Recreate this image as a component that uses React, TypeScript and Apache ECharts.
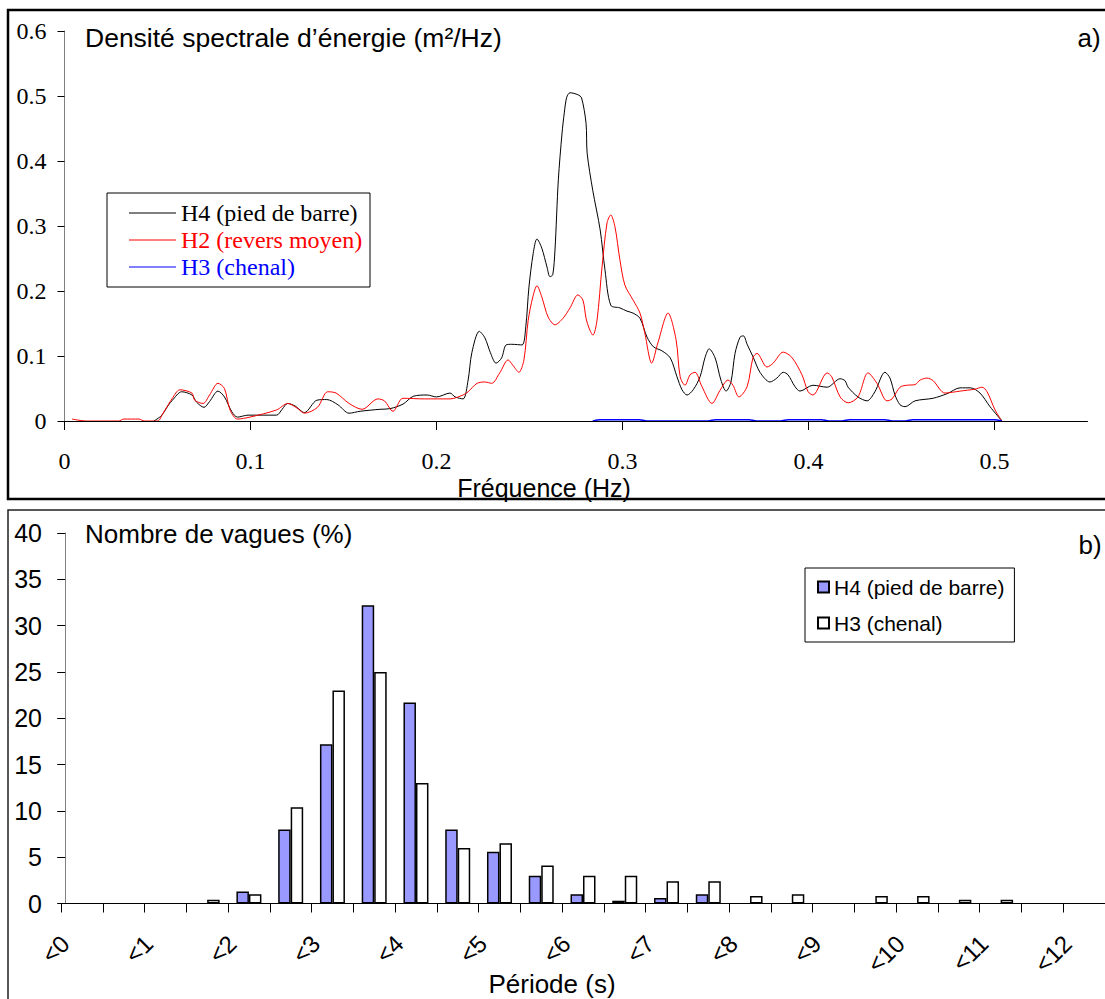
import { useEffect, useRef } from "react";
import * as echarts from "echarts";

// ---------- Panel a) : spectral energy density (m²/Hz) vs frequency (Hz) ----------
const h4Spectrum: [number, number][] = [
  [0.048, 0], [0.052, 0.008], [0.056, 0.025], [0.058, 0.032], [0.063, 0.045], [0.0685, 0.04],
  [0.071, 0.029], [0.075, 0.021], [0.078, 0.03], [0.0825, 0.046], [0.086, 0.037], [0.09, 0.014],
  [0.093, 0.006], [0.0987, 0.009], [0.114, 0.009], [0.117, 0.018], [0.12, 0.027], [0.124, 0.023],
  [0.129, 0.013], [0.1357, 0.032], [0.141, 0.033], [0.147, 0.025], [0.153, 0.012], [0.159, 0.015],
  [0.1696, 0.018], [0.175, 0.019], [0.182, 0.026], [0.1875, 0.038], [0.195, 0.04], [0.2, 0.037],
  [0.2073, 0.043], [0.21, 0.037], [0.2143, 0.034], [0.217, 0.063], [0.219, 0.105], [0.223, 0.138],
  [0.226, 0.128], [0.229, 0.105], [0.232, 0.089], [0.235, 0.097], [0.2374, 0.117], [0.2405, 0.118],
  [0.246, 0.117], [0.248, 0.145], [0.2497, 0.206], [0.252, 0.258], [0.254, 0.28], [0.2566, 0.266],
  [0.2594, 0.237], [0.261, 0.222], [0.2625, 0.225], [0.2637, 0.263], [0.2655, 0.371], [0.2675, 0.443],
  [0.2687, 0.474], [0.27, 0.498], [0.2718, 0.505], [0.276, 0.502], [0.278, 0.497], [0.2804, 0.458],
  [0.281, 0.412], [0.284, 0.355], [0.288, 0.294], [0.2906, 0.232], [0.2937, 0.178], [0.2986, 0.174],
  [0.3024, 0.169], [0.3057, 0.166], [0.3094, 0.158], [0.3132, 0.129], [0.3167, 0.114], [0.3212, 0.108],
  [0.3257, 0.097], [0.3293, 0.068], [0.332, 0.048], [0.3347, 0.04], [0.338, 0.048], [0.3417, 0.068],
  [0.3444, 0.098], [0.3466, 0.111], [0.3498, 0.097], [0.3529, 0.063], [0.3557, 0.046], [0.3583, 0.06],
  [0.3605, 0.104], [0.3632, 0.129], [0.365, 0.131], [0.367, 0.118], [0.3703, 0.098], [0.3739, 0.075],
  [0.3793, 0.06], [0.383, 0.066], [0.3864, 0.075], [0.389, 0.071], [0.3927, 0.053], [0.3954, 0.046],
  [0.4024, 0.055], [0.41, 0.052], [0.417, 0.065], [0.4196, 0.062], [0.4213, 0.052], [0.4266, 0.037],
  [0.4315, 0.031], [0.4357, 0.045], [0.4411, 0.075], [0.4438, 0.066], [0.4465, 0.04], [0.4492, 0.025],
  [0.4519, 0.022], [0.4573, 0.031], [0.467, 0.035], [0.4745, 0.042], [0.4815, 0.051], [0.487, 0.051],
  [0.4922, 0.043], [0.4976, 0.022], [0.504, 0],
];

const h2Spectrum: [number, number][] = [
  [0.004, 0.003], [0.012, 0], [0.029, 0], [0.032, 0.003], [0.04, 0.003], [0.043, 0], [0.05, 0],
  [0.053, 0.012], [0.058, 0.035], [0.062, 0.048], [0.0685, 0.043], [0.07, 0.032], [0.0745, 0.027],
  [0.078, 0.04], [0.0825, 0.058], [0.086, 0.05], [0.089, 0.017], [0.093, 0.003], [0.0997, 0.006],
  [0.114, 0.017], [0.12, 0.027], [0.125, 0.02], [0.129, 0.012], [0.136, 0.021], [0.1415, 0.045],
  [0.146, 0.043], [0.153, 0.027], [0.16, 0.018], [0.1685, 0.034], [0.172, 0.031], [0.1766, 0.015],
  [0.182, 0.035], [0.1935, 0.034], [0.2073, 0.034], [0.2143, 0.04], [0.217, 0.045], [0.2218, 0.058],
  [0.226, 0.06], [0.2297, 0.058], [0.234, 0.074], [0.2385, 0.094], [0.241, 0.086], [0.2443, 0.075],
  [0.247, 0.094], [0.2493, 0.155], [0.2518, 0.191], [0.254, 0.208], [0.2566, 0.191], [0.26, 0.16],
  [0.2637, 0.148], [0.268, 0.158], [0.2718, 0.174], [0.276, 0.194], [0.2787, 0.186], [0.2804, 0.158],
  [0.282, 0.143], [0.2841, 0.132], [0.2863, 0.155], [0.289, 0.237], [0.2917, 0.305], [0.2937, 0.317],
  [0.296, 0.298], [0.2986, 0.248], [0.3013, 0.209], [0.3057, 0.186], [0.3094, 0.166], [0.312, 0.135],
  [0.3157, 0.089], [0.319, 0.12], [0.3245, 0.166], [0.3288, 0.125], [0.331, 0.068], [0.3336, 0.055],
  [0.3363, 0.071], [0.339, 0.075], [0.3427, 0.053], [0.3481, 0.027], [0.3524, 0.047], [0.3567, 0.063],
  [0.3594, 0.055], [0.3626, 0.037], [0.367, 0.053], [0.3702, 0.098], [0.3723, 0.104], [0.3777, 0.083],
  [0.381, 0.089], [0.3864, 0.106], [0.391, 0.098], [0.3965, 0.071], [0.3998, 0.045], [0.4024, 0.04],
  [0.41, 0.074], [0.4125, 0.068], [0.417, 0.037], [0.4213, 0.028], [0.4266, 0.037], [0.432, 0.074],
  [0.4368, 0.058], [0.4422, 0.031], [0.4449, 0.034], [0.4492, 0.052], [0.4528, 0.055], [0.4573, 0.056],
  [0.46, 0.063], [0.4637, 0.066], [0.467, 0.062], [0.4734, 0.043], [0.4815, 0.046], [0.4895, 0.049],
  [0.4933, 0.052], [0.496, 0.045], [0.5003, 0.017], [0.504, 0],
];

const h3Spectrum: [number, number][] = [
  [0.284, 0], [0.288, 0.002], [0.309, 0.002], [0.313, 0], [0.346, 0], [0.35, 0.002], [0.368, 0.002],
  [0.372, 0], [0.385, 0], [0.389, 0.002], [0.407, 0.002], [0.411, 0], [0.418, 0], [0.422, 0.002],
  [0.441, 0.002], [0.445, 0], [0.452, 0], [0.456, 0.002], [0.5, 0.002], [0.504, 0],
];

const freqTicks = [0, 0.1, 0.2, 0.3, 0.4, 0.5];

const spectrumNames = ["H4 (pied de barre)", "H2 (revers moyen)", "H3 (chenal)"];
const spectrumColors = ["#000000", "#ff0000", "#0000ff"];

// ---------- Panel b) : number of waves (%) per period class (half-second bins) ----------
const periodBins = [
  "0-0.5", "0.5-1", "1-1.5", "1.5-2", "2-2.5", "2.5-3", "3-3.5", "3.5-4", "4-4.5", "4.5-5",
  "5-5.5", "5.5-6", "6-6.5", "6.5-7", "7-7.5", "7.5-8", "8-8.5", "8.5-9", "9-9.5", "9.5-10",
  "10-10.5", "10.5-11", "11-11.5", "11.5-12", "12-12.5",
];
const h4Counts = [0, 0, 0, 0, 1.3, 8.0, 17.2, 32.2, 21.7, 8.0, 5.6, 3.0, 1.0, 0.3, 0.6, 1.0, 0, 0, 0, 0, 0, 0, 0, 0, 0];
const h3Counts = [0, 0, 0, 0.4, 1.0, 10.4, 23.0, 25.0, 13.0, 6.0, 6.5, 4.1, 3.0, 3.0, 2.4, 2.4, 0.8, 1.0, 0, 0.8, 0.8, 0.4, 0.4, 0, 0];
const periodLabels = ["<0", "<1", "<2", "<3", "<4", "<5", "<6", "<7", "<8", "<9", "<10", "<11", "<12"];
const periodLabelPos = [0, 2, 4, 6, 8, 10, 12, 14, 16, 18, 20, 22, 24];

const SANS = "Liberation Sans";
const SERIF = "Liberation Serif";

export default function App() {
  const ref = useRef<HTMLDivElement>(null);

  useEffect(() => {
    if (!ref.current) return;
    const chart = echarts.init(ref.current, null, { renderer: "svg" });

    const txt = (
      x: number,
      y: number,
      text: string,
      size: number,
      align: string,
      family = SANS,
      color = "#000"
    ) => ({
      type: "text",
      x,
      y,
      silent: true,
      z: 20,
      style: {
        text,
        fill: color,
        fontFamily: family,
        fontSize: size,
        align,
        textAlign: align,
        verticalAlign: "middle",
        textVerticalAlign: "middle",
      },
    });

    // top legend drawn as a boxed list
    const legendRows = [213, 240, 267];
    const topLegend: any[] = [
      {
        type: "rect",
        silent: true,
        z: 19,
        shape: { x: 107, y: 193, width: 263, height: 94 },
        style: { fill: "#fff", stroke: "#000", lineWidth: 1 },
      },
    ];
    spectrumNames.forEach((name, i) => {
      topLegend.push({
        type: "line",
        silent: true,
        z: 20,
        shape: { x1: 129, y1: legendRows[i], x2: 176, y2: legendRows[i] },
        style: { stroke: spectrumColors[i], lineWidth: 1 },
      });
      topLegend.push(txt(181, legendRows[i], name, 24, "left", SERIF, spectrumColors[i]));
    });

    chart.setOption({
      animation: false,
      backgroundColor: "#fff",
      grid: [
        { left: 64.5, right: 17.5, top: 31, bottom: 578 },
        { left: 61, right: 0, top: 533, bottom: 95.5 },
      ],
      xAxis: [
        {
          type: "value",
          gridIndex: 0,
          min: 0,
          max: 0.55,
          interval: 0.1,
          z: 10,
          axisLine: { show: true, lineStyle: { color: "#000", width: 1 } },
          axisTick: { show: true, length: 9, customValues: freqTicks, lineStyle: { color: "#000" } },
          axisLabel: {
            customValues: freqTicks,
            formatter: (v: number) => (v === 0 ? "0" : v.toFixed(1)),
            fontFamily: SERIF,
            fontSize: 24,
            color: "#000",
            margin: 28,
          },
          splitLine: { show: false },
        },
        {
          type: "category",
          gridIndex: 1,
          data: periodBins,
          position: "bottom",
          z: 10,
          axisLine: { show: true, lineStyle: { color: "#000", width: 1 } },
          axisTick: { show: true, length: 9, interval: 0, lineStyle: { color: "#000" } },
          axisLabel: { show: false },
          splitLine: { show: false },
        },
        {
          // label-only axis: bin boundaries (0..25), labels under every second tick
          type: "value",
          gridIndex: 1,
          min: -0.1,
          max: 24.9,
          position: "bottom",
          axisLine: { show: false },
          axisTick: { show: false },
          splitLine: { show: false },
          axisLabel: {
            customValues: periodLabelPos,
            formatter: (v: number) => periodLabels[Math.round(v / 2)] ?? "",
            rotate: 45,
            margin: 36,
            fontFamily: SANS,
            fontSize: 24,
            color: "#000",
          },
        },
      ],
      yAxis: [
        {
          type: "value",
          gridIndex: 0,
          min: 0,
          max: 0.6,
          interval: 0.1,
          axisLine: { show: true, lineStyle: { color: "#808080", width: 1 } },
          axisTick: { show: true, length: 7, lineStyle: { color: "#000" } },
          axisLabel: {
            formatter: (v: number) => (v === 0 ? "0" : v.toFixed(1)),
            fontFamily: SERIF,
            fontSize: 24,
            color: "#000",
            margin: 18,
          },
          splitLine: { show: false },
        },
        {
          type: "value",
          gridIndex: 1,
          min: 0,
          max: 40,
          interval: 5,
          axisLine: { show: true, lineStyle: { color: "#808080", width: 1 } },
          axisTick: { show: true, length: 8, lineStyle: { color: "#000" } },
          axisLabel: { fontFamily: SANS, fontSize: 25, color: "#000", margin: 19 },
          splitLine: { show: false },
        },
      ],
      legend: [
        {
          data: ["b:H4 (pied de barre)", "b:H3 (chenal)"],
          formatter: (n: string) => n.slice(2),
          left: 805,
          top: 568,
          orient: "vertical",
          icon: "rect",
          itemWidth: 11,
          itemHeight: 11,
          itemGap: 12,
          padding: [7, 10, 7, 12],
          borderColor: "#000",
          borderWidth: 1,
          backgroundColor: "#fff",
          selectedMode: false,
          textStyle: { fontFamily: SANS, fontSize: 21, lineHeight: 24, color: "#000" },
        },
      ],
      series: [
        ...spectrumNames.map((name, i) => ({
          name,
          type: "line",
          xAxisIndex: 0,
          yAxisIndex: 0,
          data: [h4Spectrum, h2Spectrum, h3Spectrum][i],
          showSymbol: false,
          smooth: 0.3,
          color: spectrumColors[i],
          lineStyle: { color: spectrumColors[i], width: i === 2 ? 1.5 : 1 },
        })),
        {
          name: "b:H4 (pied de barre)",
          type: "bar",
          xAxisIndex: 1,
          yAxisIndex: 1,
          data: h4Counts.map((v) => (v === 0 ? "-" : v)),
          barWidth: 12.5,
          barGap: "0%",
          itemStyle: { color: "#9999ff", borderColor: "#000", borderWidth: 1.5 },
        },
        {
          name: "b:H3 (chenal)",
          type: "bar",
          xAxisIndex: 1,
          yAxisIndex: 1,
          data: h3Counts.map((v) => (v === 0 ? "-" : v)),
          barWidth: 12.5,
          barGap: "0%",
          itemStyle: { color: "#ffffff", borderColor: "#000", borderWidth: 1.5 },
        },
      ],
      graphic: [
        {
          type: "rect",
          silent: true,
          shape: { x: 8, y: 10, width: 1120, height: 489 },
          style: { fill: "none", stroke: "#000", lineWidth: 2.5 },
        },
        {
          type: "rect",
          silent: true,
          shape: { x: 8, y: 510, width: 1120, height: 520 },
          style: { fill: "none", stroke: "#222", lineWidth: 1.5 },
        },
        ...topLegend,
        txt(85, 38, "Densité spectrale d’énergie (m²/Hz)", 26.5, "left"),
        txt(1089, 38, "a)", 26, "center"),
        txt(544, 488, "Fréquence (Hz)", 25, "center"),
        txt(85, 534, "Nombre de vagues (%)", 26, "left"),
        txt(1090, 545, "b)", 26, "center"),
        txt(552, 984, "Période (s)", 26, "center"),
      ],
    });

    return () => chart.dispose();
  }, []);

  return (
    <div
      ref={ref}
      style={{ position: "absolute", left: 0, top: 0, width: 1105, height: 999, background: "#fff" }}
    />
  );
}
